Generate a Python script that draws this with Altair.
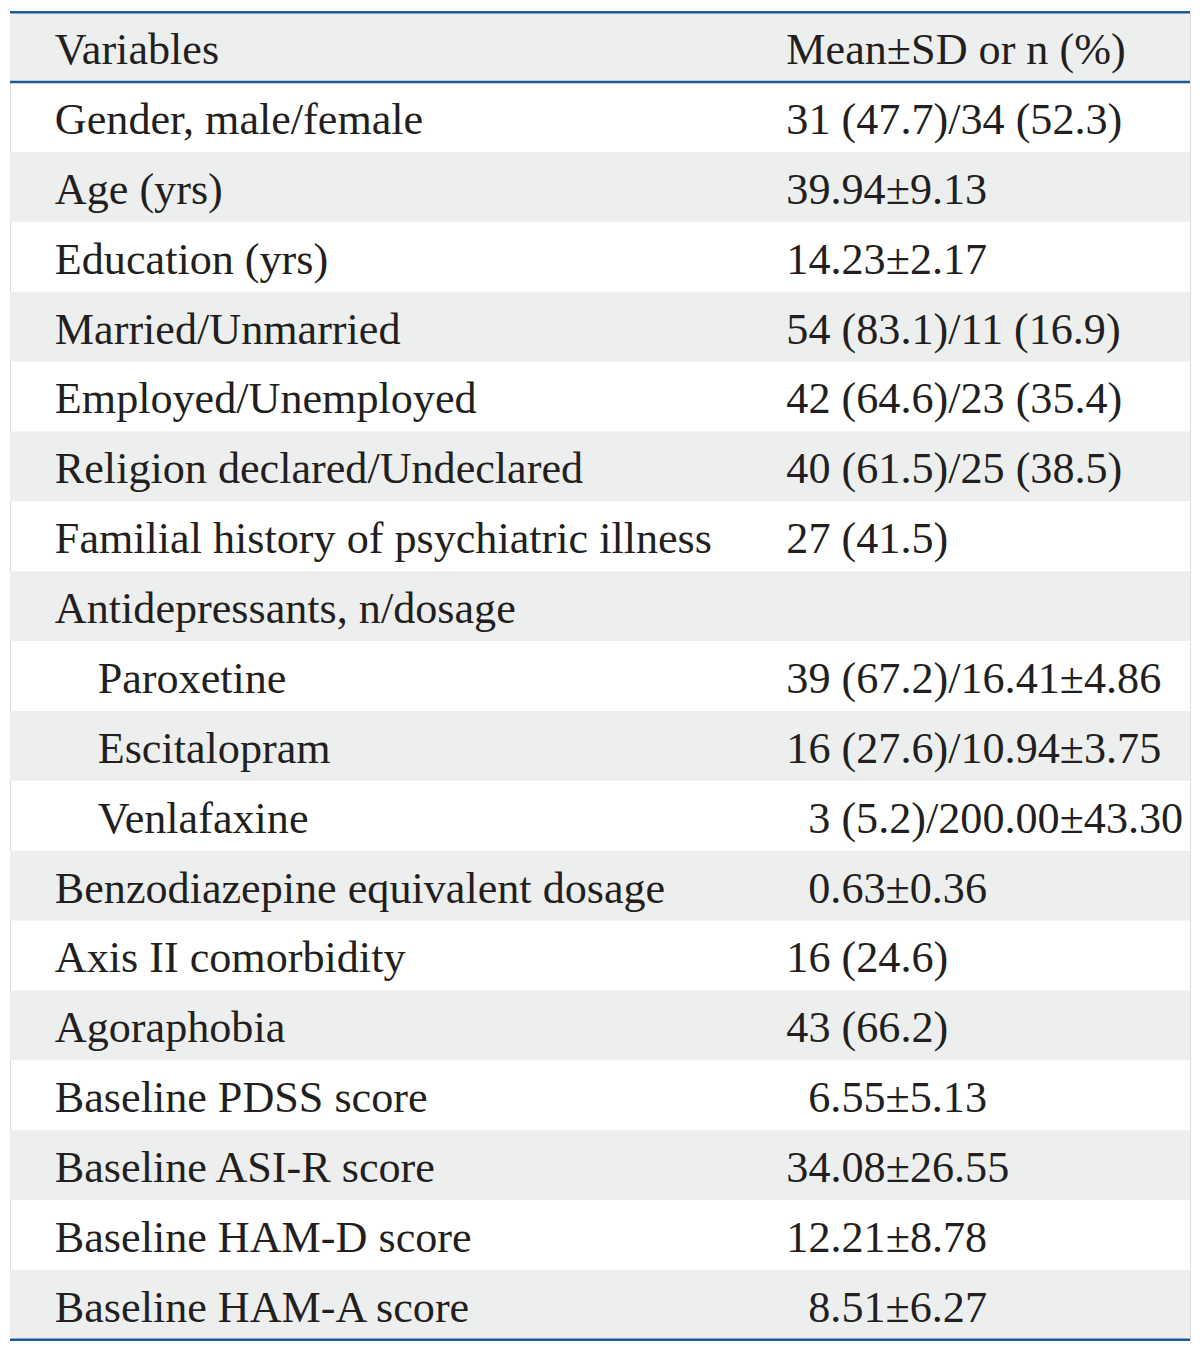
import altair as alt
import pandas as pd

header_left = "Variables"
header_right = "Mean±SD or n (%)"

variables = [
    "Gender, male/female",
    "Age (yrs)",
    "Education (yrs)",
    "Married/Unmarried",
    "Employed/Unemployed",
    "Religion declared/Undeclared",
    "Familial history of psychiatric illness",
    "Antidepressants, n/dosage",
    "Paroxetine",
    "Escitalopram",
    "Venlafaxine",
    "Benzodiazepine equivalent dosage",
    "Axis II comorbidity",
    "Agoraphobia",
    "Baseline PDSS score",
    "Baseline ASI-R score",
    "Baseline HAM-D score",
    "Baseline HAM-A score",
]
values = [
    "31 (47.7)/34 (52.3)",
    "39.94±9.13",
    "14.23±2.17",
    "54 (83.1)/11 (16.9)",
    "42 (64.6)/23 (35.4)",
    "40 (61.5)/25 (38.5)",
    "27 (41.5)",
    "",
    "39 (67.2)/16.41±4.86",
    "16 (27.6)/10.94±3.75",
    "3 (5.2)/200.00±43.30",
    "0.63±0.36",
    "16 (24.6)",
    "43 (66.2)",
    "6.55±5.13",
    "34.08±26.55",
    "12.21±8.78",
    "8.51±6.27",
]
# 1 = left column indented sub-item; 1 = right value aligned one digit in
indent = [0, 0, 0, 0, 0, 0, 0, 0, 1, 1, 1, 0, 0, 0, 0, 0, 0, 0]
digit_pad = [0, 0, 0, 0, 0, 0, 0, 0, 0, 0, 1, 1, 0, 0, 1, 0, 0, 1]

left = [header_left] + variables
right = [header_right] + values
ind = [0] + indent
pad = [0] + digit_pad
n = len(left)

df = pd.DataFrame({
    "row": list(range(n)),
    "left": left,
    "right": right,
    "indent": ind,
    "pad": pad,
})
df["row2"] = df["row"] + 1
df["mid"] = df["row"] + 0.5
df["shade"] = df["row"] % 2 == 0

lines = pd.DataFrame({"pos": [0, 1, n]})

W = 1184
H = 1332
yscale = alt.Scale(domain=[0, n], range=[0, H], nice=False, zero=False)
FONT = "Liberation Serif"
FS = 44.3
TXT = "#231f20"

base = alt.Chart(df)

rects = base.transform_filter("datum.shade").mark_rect(color="#edeeee").encode(
    x=alt.value(0),
    x2=alt.value(W),
    y=alt.Y("row:Q", scale=yscale, axis=None),
    y2="row2:Q",
)

left_text = base.mark_text(
    align="left", baseline="alphabetic", dy=17, font=FONT, fontSize=FS, color=TXT
).encode(
    x=alt.X("indent:Q", scale=alt.Scale(domain=[0, 1], range=[45, 88]), axis=None),
    y=alt.Y("mid:Q", scale=yscale, axis=None),
    text="left:N",
)

right_text = base.mark_text(
    align="left", baseline="alphabetic", dy=17, font=FONT, fontSize=FS, color=TXT
).encode(
    x=alt.X("pad:Q", scale=alt.Scale(domain=[0, 1], range=[779, 801]), axis=None),
    y=alt.Y("mid:Q", scale=yscale, axis=None),
    text="right:N",
)

rules = alt.Chart(lines).mark_rule(color="#1f5a98", strokeWidth=2.5).encode(
    x=alt.value(0),
    x2=alt.value(W),
    y=alt.Y("pos:Q", scale=yscale, axis=None),
)

chart = alt.layer(rects, rules, left_text, right_text).resolve_scale(
    x="independent"
).properties(
    width=W, height=H, padding={"top": 0, "left": 0, "right": 0, "bottom": 0}
).configure_view(stroke=None).configure(background="white")

chart.save("out.html", embed_options={"renderer": "svg", "actions": False})
